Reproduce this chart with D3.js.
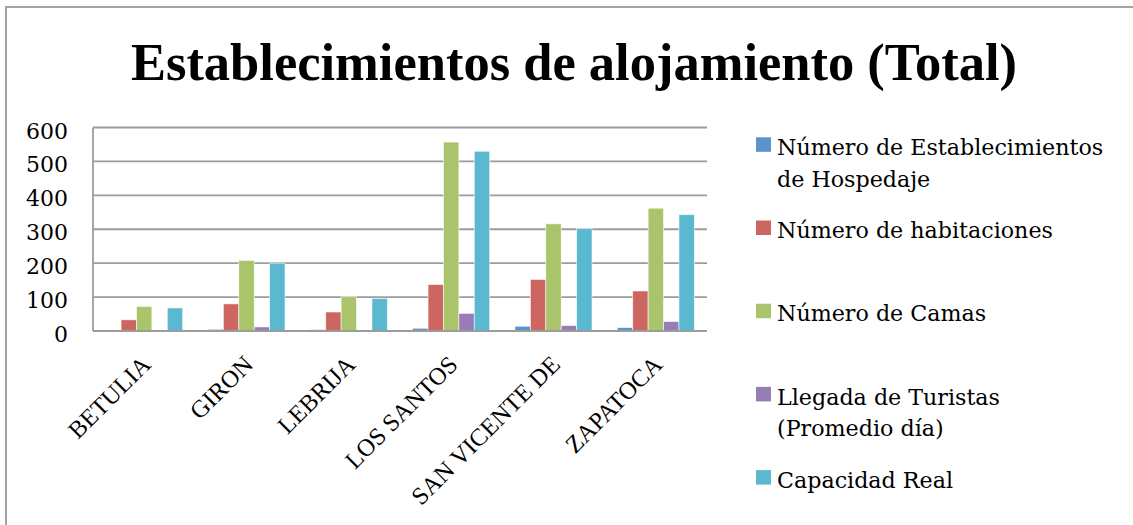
<!DOCTYPE html>
<html>
<head>
<meta charset="utf-8">
<script src="https://cdn.jsdelivr.net/npm/d3@7"></script>
<style>
  html, body { margin: 0; padding: 0; background: #ffffff; }
  svg { display: block; }
</style>
</head>
<body>
<svg id="chart" width="1133" height="525"></svg>
<script>
// Municipios
const categories = ["BETULIA", "GIRON", "LEBRIJA", "LOS SANTOS", "SAN VICENTE DE", "ZAPATOCA"];

// Series por municipio
const establecimientos = [1, 5, 4, 8, 14, 10];
const habitaciones     = [33, 80, 56, 137, 152, 118];
const camas            = [72, 208, 101, 557, 316, 362];
const llegadaTuristas  = [0, 12, 0, 52, 16, 28];
const capacidadReal    = [68, 200, 96, 530, 302, 343];

const seriesNames = [
  "Número de Establecimientos de Hospedaje",
  "Número de habitaciones",
  "Número de Camas",
  "Llegada de Turistas (Promedio día)",
  "Capacidad Real"
];
const legendLines = [
  ["Número de Establecimientos", "de Hospedaje"],
  ["Número de habitaciones"],
  ["Número de Camas"],
  ["Llegada de Turistas", "(Promedio día)"],
  ["Capacidad Real"]
];
const seriesValues = [establecimientos, habitaciones, camas, llegadaTuristas, capacidadReal];
const seriesColors = ["#5B93CB", "#CD6660", "#A9C46B", "#977DB6", "#5BB8D1"];

const yTicks = [0, 100, 200, 300, 400, 500, 600];

const svg = d3.select("#chart");
const plot = { left: 93, right: 707, top: 127.5, bottom: 331 };

// Outer chart frame (top and left edges)
svg.append("path")
  .attr("d", "M6,525V7H1133")
  .attr("fill", "none")
  .attr("stroke", "#a3a3a3")
  .attr("stroke-width", 2);

// Title
svg.append("text")
  .attr("x", 574)
  .attr("y", 80)
  .attr("text-anchor", "middle")
  .attr("font-family", "'Liberation Serif', serif")
  .attr("font-weight", "bold")
  .attr("font-size", 52.5)
  .attr("fill", "#000")
  .text("Establecimientos de alojamiento (Total)");

// Scales
const x0 = d3.scaleBand().domain(categories).range([plot.left, plot.right]).padding(0);
const x1 = d3.scaleBand().domain(d3.range(seriesNames.length))
  .range([0, x0.bandwidth()]).paddingInner(0).paddingOuter(0.82);
const y = d3.scaleLinear().domain([0, 600]).range([plot.bottom, plot.top]);

// Gridlines
svg.append("g")
  .selectAll("line")
  .data(yTicks)
  .join("line")
  .attr("x1", plot.left)
  .attr("x2", plot.right)
  .attr("y1", d => y(d))
  .attr("y2", d => y(d))
  .attr("stroke", "#9c9c9c")
  .attr("stroke-width", 1.8);

// Vertical axis line
svg.append("line")
  .attr("x1", plot.left).attr("x2", plot.left)
  .attr("y1", y(600)).attr("y2", y(0))
  .attr("stroke", "#9c9c9c")
  .attr("stroke-width", 1.8);

// Y tick labels
svg.append("g")
  .selectAll("text")
  .data(yTicks)
  .join("text")
  .attr("x", 68)
  .attr("y", d => y(d) + 11)
  .attr("text-anchor", "end")
  .attr("font-family", "'DejaVu Serif', serif")
  .attr("font-size", 22)
  .attr("fill", "#000")
  .text(d => d);

// Bars
const groups = svg.append("g")
  .selectAll("g")
  .data(categories)
  .join("g")
  .attr("transform", d => `translate(${x0(d)},0)`);

groups.selectAll("rect")
  .data((d, i) => seriesValues.map((vals, s) => ({ s, v: vals[i] })))
  .join("rect")
  .attr("x", d => x1(d.s))
  .attr("width", x1.bandwidth())
  .attr("y", d => y(d.v))
  .attr("height", d => y(0) - y(d.v))
  .attr("fill", d => seriesColors[d.s])
  .attr("stroke", "#ffffff")
  .attr("stroke-opacity", 0.7)
  .attr("stroke-width", 0.8);

// Category axis baseline
svg.append("line")
  .attr("x1", plot.left).attr("x2", plot.right)
  .attr("y1", y(0)).attr("y2", y(0))
  .attr("stroke", "#9c9c9c")
  .attr("stroke-width", 2);

// Rotated category labels
svg.append("g")
  .selectAll("text")
  .data(categories)
  .join("text")
  .attr("text-anchor", "end")
  .attr("transform", d => `translate(${x0(d) + x0.bandwidth() / 2 + 8},366) rotate(-45)`)
  .attr("font-family", "'Liberation Serif', serif")
  .attr("font-size", 24.5)
  .attr("fill", "#000")
  .text(d => d);

// Legend
const legend = svg.append("g")
  .selectAll("g")
  .data(legendLines)
  .join("g")
  .attr("transform", (d, i) => `translate(756,${137.3 + i * 83.2})`);

legend.append("rect")
  .attr("width", 15)
  .attr("height", 14.5)
  .attr("fill", (d, i) => seriesColors[i]);

legend.each(function (lines) {
  const t = d3.select(this).append("text")
    .attr("font-family", "'DejaVu Serif', serif")
    .attr("font-size", 22.2)
    .attr("fill", "#000");
  lines.forEach((ln, k) => {
    t.append("tspan")
      .attr("x", 21)
      .attr("y", 17.7 + k * 31.7)
      .text(ln);
  });
});
</script>
</body>
</html>
